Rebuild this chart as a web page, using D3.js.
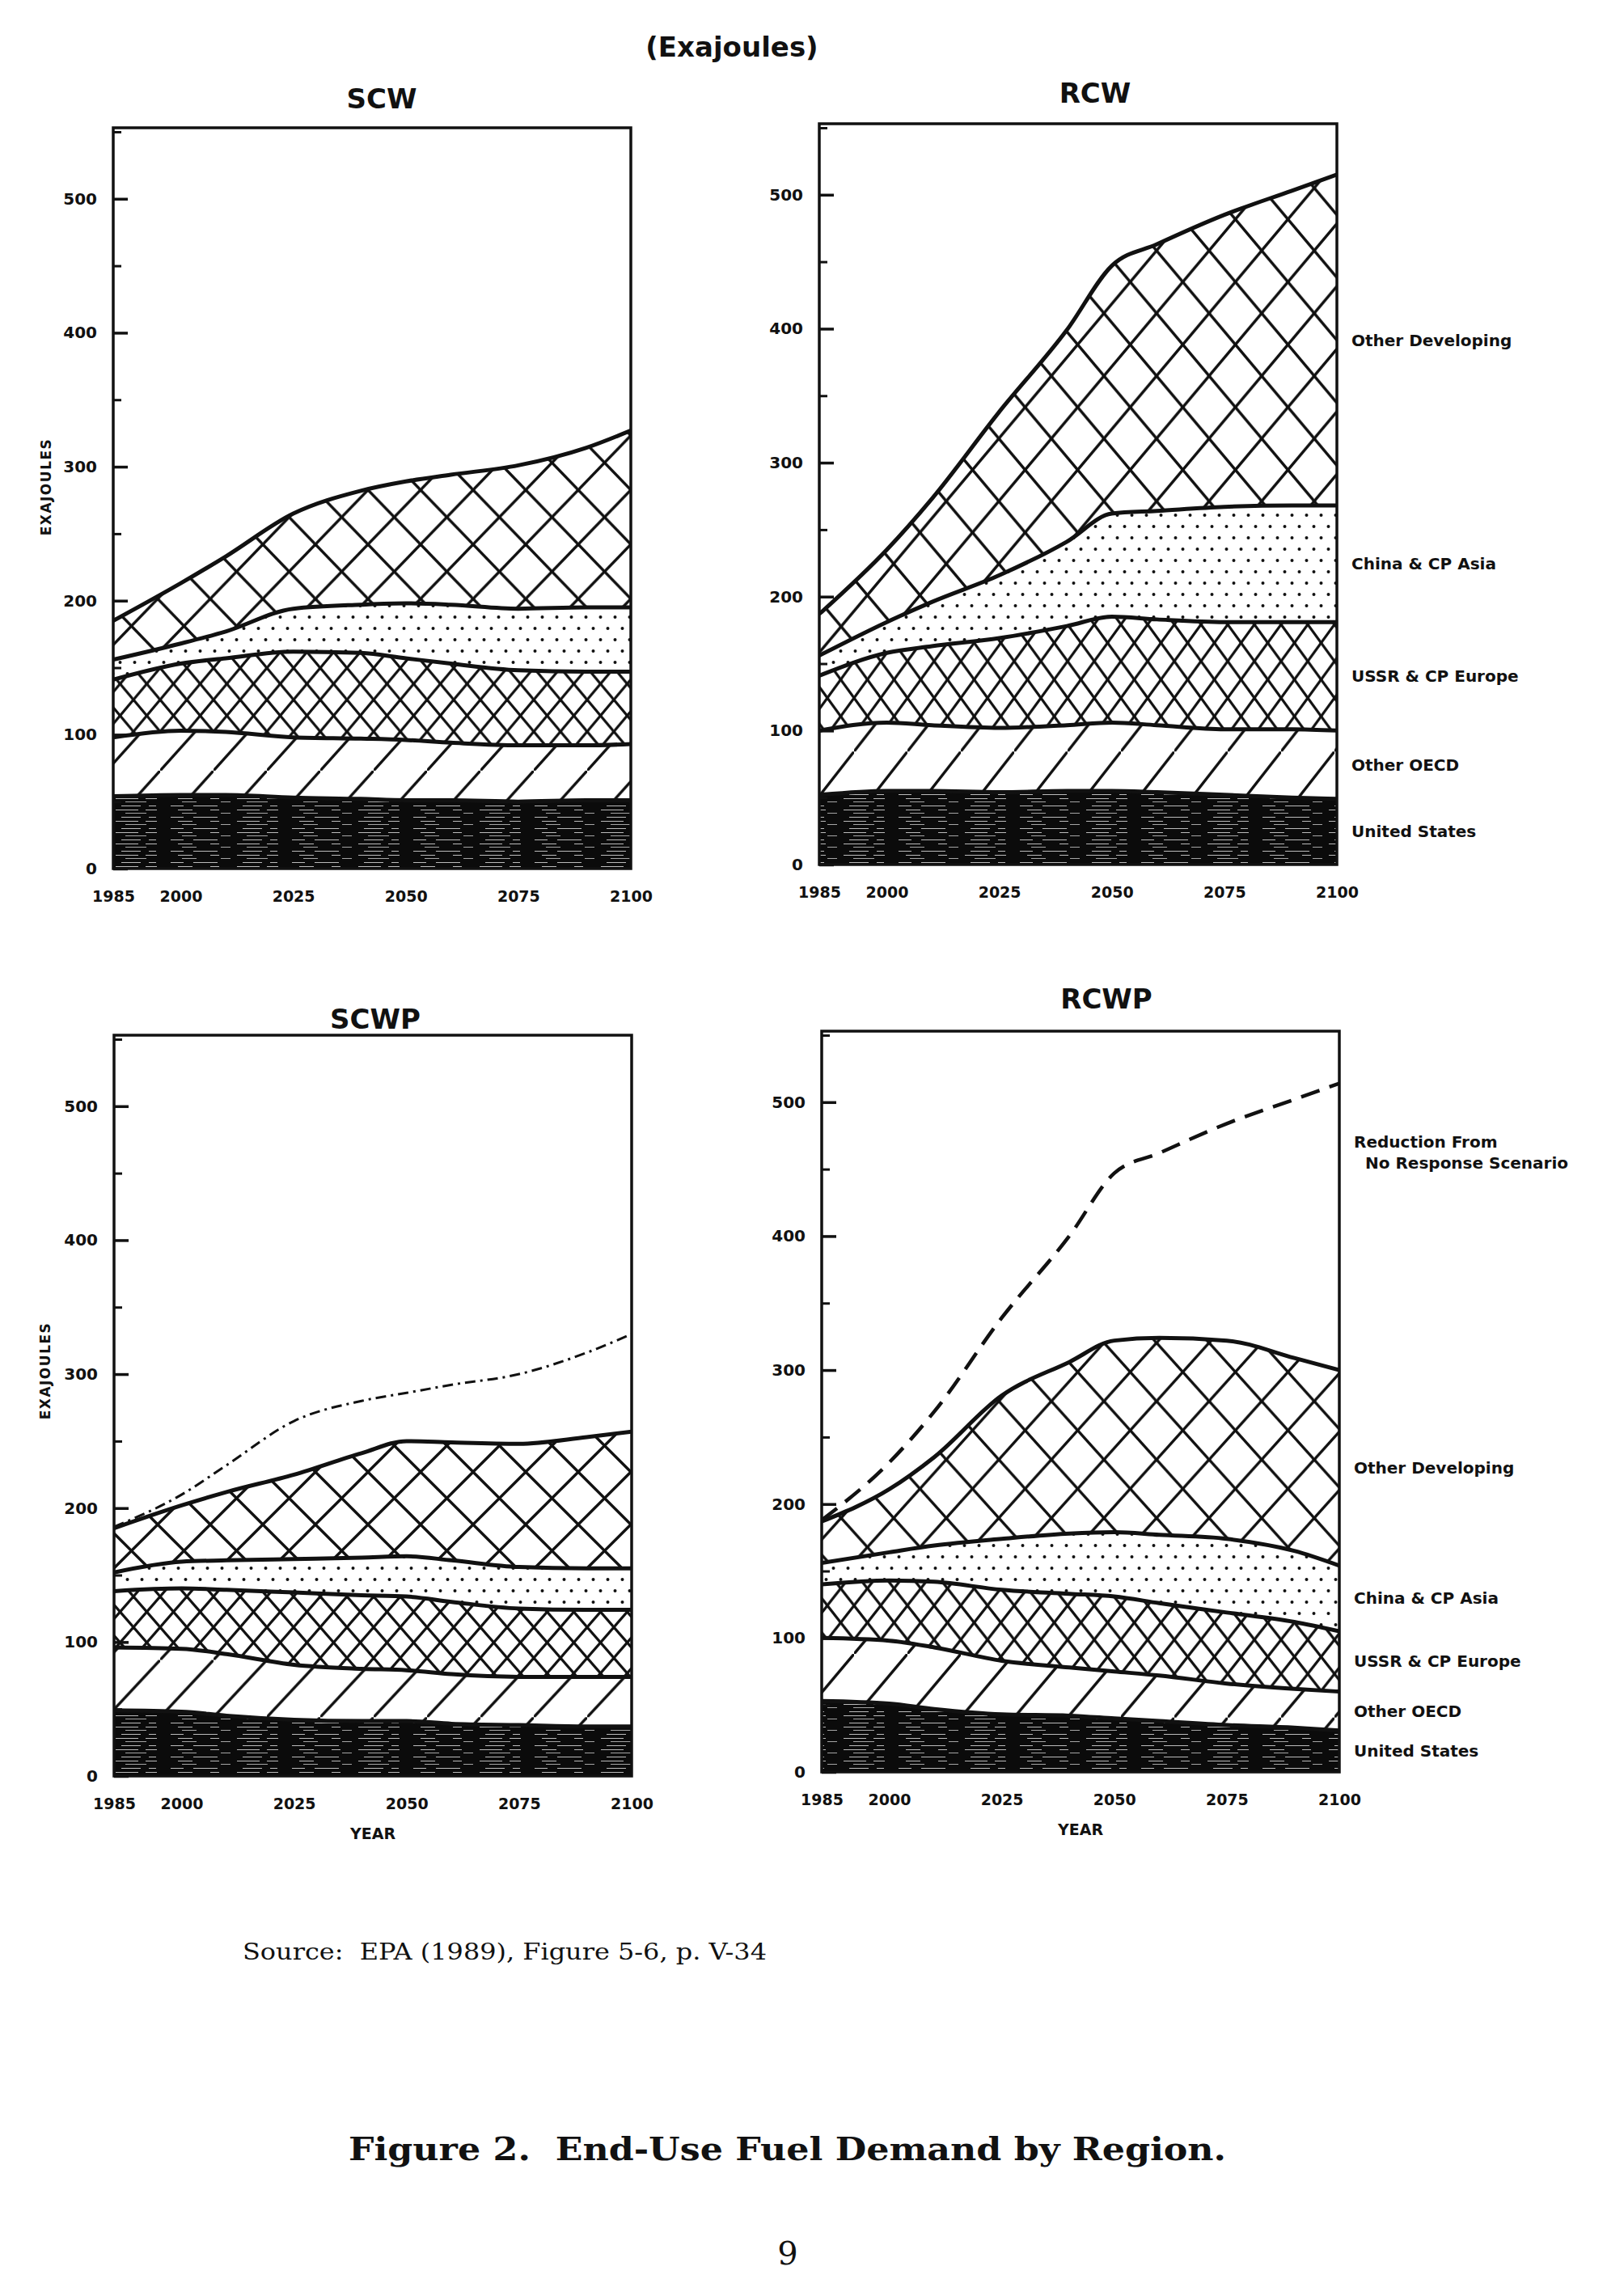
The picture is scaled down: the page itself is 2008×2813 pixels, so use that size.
<!DOCTYPE html>
<html>
<head>
<meta charset="utf-8">
<script src="https://cdn.jsdelivr.net/npm/d3@7"></script>
<style>
  body { margin: 0; background: #fff; }
  svg { display: block; }
  .sans { font-family: "DejaVu Sans", sans-serif; font-weight: bold; fill: #111; }
  .serif { font-family: "DejaVu Serif", serif; fill: #111; }
</style>
</head>
<body>
<svg id="fig" width="2008" height="2813"></svg>
<script>
// ---------------- DATA (Exajoules) ----------------
const years = [1985, 2000, 2010, 2025, 2040, 2050, 2060, 2075, 2090, 2100];
const xTickYears = [1985, 2000, 2025, 2050, 2075, 2100];
const yTickValues = [0, 100, 200, 300, 400, 500];
const yMinorTickValues = [50, 150, 250, 350, 450, 550];
const regions = ["United States", "Other OECD", "USSR & CP Europe", "China & CP Asia", "Other Developing"];
const panelNames = ["SCW", "RCW", "SCWP", "RCWP"];

// SCW
const scwUS    = [54, 55, 55, 53, 52, 51, 51, 50, 51, 51];
const scwOECD  = [44, 48, 47, 45, 45, 45, 43, 42, 41, 42];
const scwUSSR  = [43, 50, 55, 64, 64, 61, 59, 56, 55, 54];
const scwChina = [15, 15, 20, 32, 36, 41, 44, 46, 48, 48];
const scwOther = [29, 45, 56, 71, 85, 91, 97, 107, 119, 132];

// RCW
const rcwUS    = [52, 55, 55, 54, 55, 55, 54, 52, 50, 49];
const rcwOECD  = [48, 51, 49, 48, 49, 51, 50, 49, 51, 51];
const rcwUSSR  = [41, 52, 59, 67, 74, 79, 79, 80, 80, 81];
const rcwChina = [15, 23, 33, 47, 63, 77, 81, 86, 87, 87];
const rcwOther = [31, 54, 77, 122, 158, 185, 199, 218, 235, 247];

// SCWP
const scwpUS    = [49, 48, 45, 42, 41, 41, 39, 38, 37, 37];
const scwpOECD  = [47, 47, 46, 41, 39, 38, 37, 36, 37, 37];
const scwpUSSR  = [42, 45, 48, 54, 55, 55, 54, 51, 50, 50];
const scwpChina = [14, 20, 22, 25, 28, 30, 31, 31, 31, 31];
const scwpOther = [33, 42, 51, 63, 78, 86, 88, 92, 98, 102];
const scwpNoResponse = [186, 210, 232, 265, 280, 286, 292, 300, 316, 330];

// RCWP
const rcwpUS    = [53, 51, 47, 43, 42, 40, 38, 35, 33, 31];
const rcwpOECD  = [47, 47, 46, 40, 36, 35, 34, 31, 29, 29];
const rcwpUSSR  = [40, 45, 49, 53, 55, 56, 54, 53, 50, 45];
const rcwpChina = [16, 21, 27, 38, 45, 48, 51, 55, 53, 49];
const rcwpOther = [31, 47, 66, 107, 128, 143, 147, 148, 144, 146];
const rcwpNoResponse = [188, 231, 269, 339, 400, 447, 462, 484, 502, 514];

const seriesByPanel = {
  SCW:  [scwUS, scwOECD, scwUSSR, scwChina, scwOther],
  RCW:  [rcwUS, rcwOECD, rcwUSSR, rcwChina, rcwOther],
  SCWP: [scwpUS, scwpOECD, scwpUSSR, scwpChina, scwpOther],
  RCWP: [rcwpUS, rcwpOECD, rcwpUSSR, rcwpChina, rcwpOther]
};
const noResponseByPanel = { SCWP: scwpNoResponse, RCWP: rcwpNoResponse };

// ---------------- LAYOUT ----------------
const PW = 640, PH = 916, YMAX = 553;
const layout = {
  SCW:  { x0: 140,  zeroY: 1074, title: [472, 122],  ylabel: [57, 602],  xlabel: false, legend: false, angle: 46, dash: null },
  RCW:  { x0: 1013, zeroY: 1069, title: [1354, 115], ylabel: null,       xlabel: false, legend: true,  angle: 50, dash: null },
  SCWP: { x0: 141,  zeroY: 2196, title: [464, 1260], ylabel: [56, 1695], xlabel: true,  legend: false, angle: 45, dash: "13,6,3,6" },
  RCWP: { x0: 1016, zeroY: 2191, title: [1368, 1235],ylabel: null,       xlabel: true,  legend: true,  angle: 48, dash: "24,13" }
};

const svg = d3.select("#fig");
svg.append("rect").attr("width", 2008).attr("height", 2813).attr("fill", "#fff");
const defs = svg.append("defs");

function hatchPattern(id, w, angleDeg, sw, cross) {
  const h = w * Math.tan(angleDeg * Math.PI / 180);
  const p = defs.append("pattern").attr("id", id)
    .attr("patternUnits", "userSpaceOnUse").attr("width", w).attr("height", h);
  p.append("rect").attr("width", w).attr("height", h).attr("fill", "#fff");
  const segs = [[-w, 2 * h, 2 * w, -h]];
  if (cross) segs.push([-w, -h, 2 * w, 2 * h]);
  segs.forEach(s => p.append("line")
    .attr("x1", s[0]).attr("y1", s[1]).attr("x2", s[2]).attr("y2", s[3])
    .attr("stroke", "#111").attr("stroke-width", sw));
}
function dotPattern(id) {
  const p = defs.append("pattern").attr("id", id)
    .attr("patternUnits", "userSpaceOnUse").attr("width", 18).attr("height", 28);
  p.append("rect").attr("width", 18).attr("height", 28).attr("fill", "#fff");
  [[4.5, 7], [13.5, 21]].forEach(c => p.append("circle")
    .attr("cx", c[0]).attr("cy", c[1]).attr("r", 2).attr("fill", "#111"));
}
function darkPattern(id) {
  const p = defs.append("pattern").attr("id", id)
    .attr("patternUnits", "userSpaceOnUse").attr("width", 150).attr("height", 14);
  p.append("rect").attr("width", 150).attr("height", 14).attr("fill", "#0b0b0b");
  p.append("line").attr("x1", 0).attr("x2", 150).attr("y1", 2.5).attr("y2", 2.5)
    .attr("stroke", "#e8e8e8").attr("stroke-width", 0.8).attr("stroke-dasharray", "24,10,9,18,16,12,30,31");
  p.append("line").attr("x1", 0).attr("x2", 150).attr("y1", 7.5).attr("y2", 7.5)
    .attr("stroke", "#e8e8e8").attr("stroke-width", 0.8).attr("stroke-dasharray", "11,22,28,9,14,26,18,22")
    .attr("stroke-dashoffset", 40);
  p.append("line").attr("x1", 0).attr("x2", 150).attr("y1", 11.5).attr("y2", 11.5)
    .attr("stroke", "#e8e8e8").attr("stroke-width", 0.7).attr("stroke-dasharray", "18,30,12,20,26,44")
    .attr("stroke-dashoffset", 75);
}

panelNames.forEach(name => {
  const L = layout[name];
  const vals = seriesByPanel[name];
  const table = years.map((yr, i) => {
    const row = { year: yr };
    regions.forEach((r, k) => row[r] = vals[k][i]);
    return row;
  });

  // patterns for this panel
  darkPattern(name + "-us");
  hatchPattern(name + "-oecd", 66, L.angle + 2, 3.4, false);
  hatchPattern(name + "-ussr", 33, L.angle + 4, 3.2, true);
  dotPattern(name + "-china");
  hatchPattern(name + "-other", 65, L.angle, 3.4, true);
  const fills = ["us", "oecd", "ussr", "china", "other"].map(k => `url(#${name}-${k})`);

  const x = d3.scaleLinear().domain([1985, 2100]).range([L.x0, L.x0 + PW]);
  const y = d3.scaleLinear().domain([0, YMAX]).range([L.zeroY, L.zeroY - PH]);
  const top = L.zeroY - PH;

  const stack = d3.stack().keys(regions);
  const layers = stack(table);

  const g = svg.append("g").attr("class", "panel-" + name);
  const clipId = "clip-" + name;
  defs.append("clipPath").attr("id", clipId).append("rect")
    .attr("x", L.x0).attr("y", top).attr("width", PW).attr("height", PH);
  const plot = g.append("g").attr("clip-path", `url(#${clipId})`);

  const area = d3.area()
    .x(d => x(d.data.year)).y0(d => y(d[0])).y1(d => y(d[1]))
    .curve(d3.curveMonotoneX);
  const line = d3.line()
    .x(d => x(d.data.year)).y(d => y(d[1]))
    .curve(d3.curveMonotoneX);

  plot.selectAll("path.band").data(layers).join("path")
    .attr("class", "band").attr("d", area).attr("fill", (d, i) => fills[i]);
  plot.selectAll("path.edge").data(layers).join("path")
    .attr("class", "edge").attr("d", line).attr("fill", "none")
    .attr("stroke", "#111").attr("stroke-width", 5).attr("stroke-linejoin", "round");

  // "No response" reference line
  if (noResponseByPanel[name]) {
    const nr = noResponseByPanel[name].map((v, i) => ({ year: years[i], v }));
    plot.append("path").datum(nr)
      .attr("d", d3.line().x(d => x(d.year)).y(d => y(d.v)).curve(d3.curveMonotoneX))
      .attr("fill", "none").attr("stroke", "#111")
      .attr("stroke-width", name === "RCWP" ? 4.5 : 3)
      .attr("stroke-dasharray", L.dash);
  }

  // frame
  g.append("rect").attr("x", L.x0).attr("y", top).attr("width", PW).attr("height", PH)
    .attr("fill", "none").attr("stroke", "#111").attr("stroke-width", 3.5);

  // y axis: ticks point inward
  const yAxis = g.append("g").attr("transform", `translate(${L.x0},0)`)
    .call(d3.axisLeft(y).tickValues(yTickValues).tickSize(-18).tickPadding(20).tickFormat(d3.format("d")));
  yAxis.select(".domain").remove();
  yAxis.selectAll(".tick line").attr("stroke", "#111").attr("stroke-width", 3.5);
  yAxis.selectAll(".tick text").attr("class", "sans").style("font-size", "20px")
    .attr("fill", "#111");
  const yMinor = g.append("g").attr("transform", `translate(${L.x0},0)`)
    .call(d3.axisLeft(y).tickValues(yMinorTickValues).tickSize(-10).tickFormat(""));
  yMinor.select(".domain").remove();
  yMinor.selectAll(".tick line").attr("stroke", "#111").attr("stroke-width", 3);

  // x axis: labels only
  const xAxis = g.append("g").attr("transform", `translate(0,${L.zeroY})`)
    .call(d3.axisBottom(x).tickValues(xTickYears).tickSize(0).tickPadding(28).tickFormat(d3.format("d")));
  xAxis.select(".domain").remove();
  xAxis.selectAll(".tick text").attr("class", "sans").style("font-size", "19px").attr("fill", "#111");

  // title
  g.append("text").attr("class", "sans").attr("x", L.title[0]).attr("y", L.title[1] + 12)
    .attr("text-anchor", "middle").style("font-size", "34px").text(name);

  if (L.ylabel) {
    g.append("text").attr("class", "sans")
      .attr("transform", `translate(${L.ylabel[0] + 6},${L.ylabel[1]}) rotate(-90)`)
      .attr("text-anchor", "middle").style("font-size", "17px").style("letter-spacing", "1.5px")
      .text("EXAJOULES");
  }
  if (L.xlabel) {
    g.append("text").attr("class", "sans").attr("x", L.x0 + PW / 2).attr("y", L.zeroY + 78)
      .attr("text-anchor", "middle").style("font-size", "19px").text("YEAR");
  }
  if (L.legend) {
    const last = layers.map(l => l[l.length - 1]);
    g.selectAll("text.legend").data(last).join("text")
      .attr("class", "sans legend")
      .attr("x", L.x0 + PW + 18)
      .attr("y", d => y((d[0] + d[1]) / 2) + 7)
      .style("font-size", "20px")
      .text((d, i) => regions[i]);
    if (noResponseByPanel[name]) {
      g.append("text").attr("class", "sans").attr("x", L.x0 + PW + 18).attr("y", y(470) + 7)
        .style("font-size", "20px").text("Reduction From");
      g.append("text").attr("class", "sans").attr("x", L.x0 + PW + 32).attr("y", y(470) + 33)
        .style("font-size", "20px").text("No Response Scenario");
    }
  }
});

// page texts
svg.append("text").attr("class", "sans").attr("x", 905).attr("y", 70)
  .attr("text-anchor", "middle").style("font-size", "34px").text("(Exajoules)");

svg.append("text").attr("class", "serif").attr("x", 300).attr("y", 2423)
  .style("font-size", "28px").attr("textLength", 648).attr("lengthAdjust", "spacingAndGlyphs")
  .attr("xml:space", "preserve").text("Source:  EPA (1989), Figure 5-6, p. V-34");

svg.append("text").attr("class", "serif").attr("x", 431).attr("y", 2671)
  .style("font-size", "40px").style("font-weight", "bold")
  .attr("textLength", 1085).attr("lengthAdjust", "spacingAndGlyphs")
  .attr("xml:space", "preserve").text("Figure 2.  End-Use Fuel Demand by Region.");

svg.append("text").attr("class", "serif").attr("x", 974).attr("y", 2800)
  .attr("text-anchor", "middle").style("font-size", "40px").text("9");
</script>
</body>
</html>
